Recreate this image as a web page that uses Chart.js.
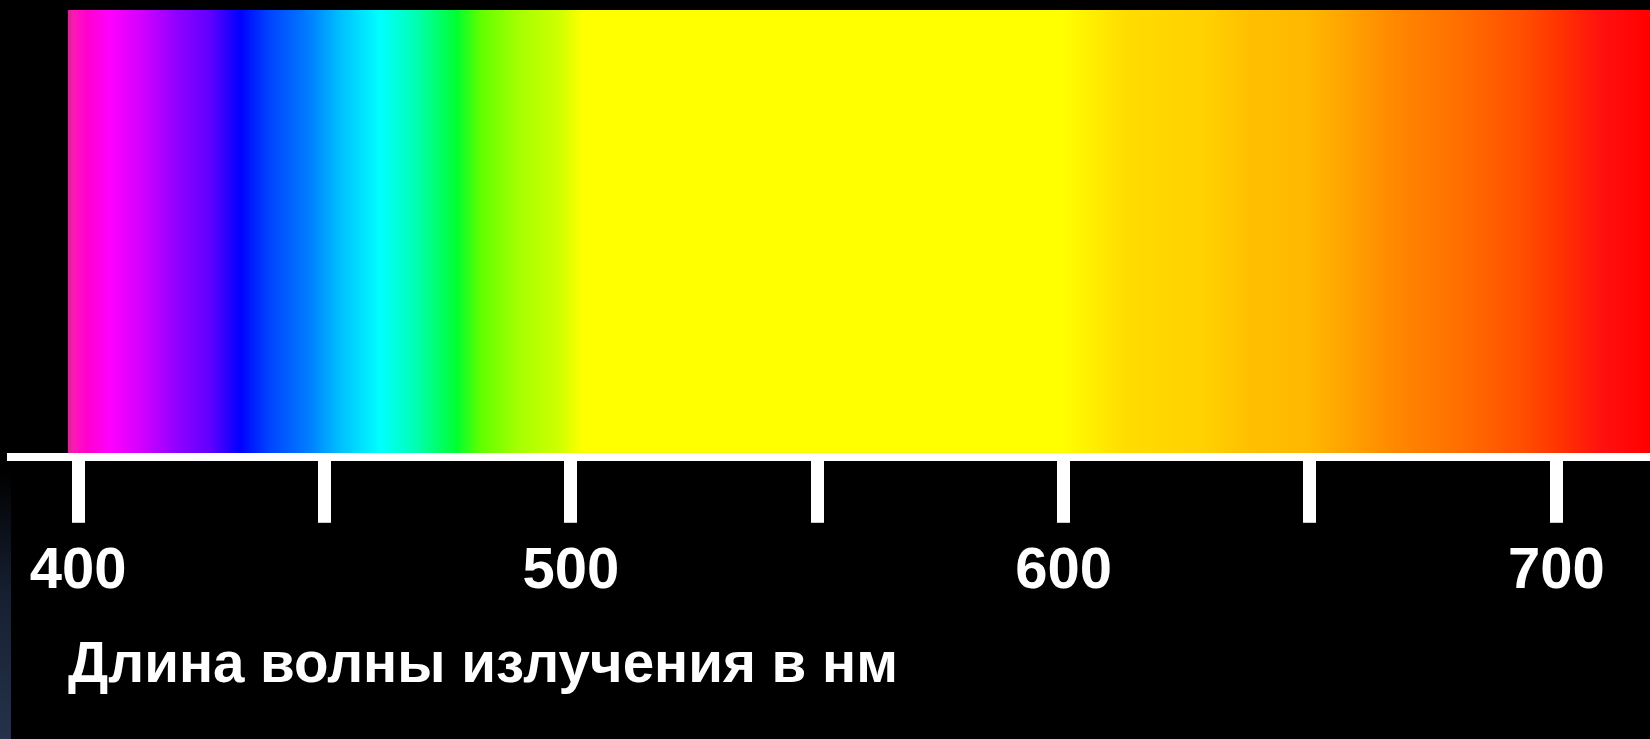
<!DOCTYPE html>
<html>
<head>
<meta charset="utf-8">
<title>Спектр видимого излучения</title>
<script src="https://cdn.jsdelivr.net/npm/chart.js@4.4.1/dist/chart.umd.min.js"></script>
<style>
  html, body { margin: 0; padding: 0; background: #000; overflow: hidden; }
  #wrap { position: relative; width: 1650px; height: 739px; background: #000; }
  #edge { position: absolute; left: 0; top: 0; width: 11px; height: 739px;
          background: linear-gradient(to bottom, #000 0px, #000 470px, #161f30 590px, #24324a 739px); }
  #c { position: absolute; left: 0; top: 0; }
</style>
</head>
<body>
<div id="wrap">
  <div id="edge"></div>
  <canvas id="c" width="1650" height="739"></canvas>
</div>
<script>
// Visible band, in nanometres
const bandLabel = ['Видимый спектр'];
const bandRange = [398, 719];

// Colour stops along the band (wavelength in nm -> colour)
const stopNm = [398, 399.2, 401.8, 406.5, 413.2, 420.1, 426.8, 432.9, 438.4, 447.1, 453.2,
                461.3, 468.8, 476.9, 481.6, 489.7, 497.2, 502.5, 599.7, 612.3, 629.1,
                637.7, 649.4, 658.8, 667.1, 679.7, 692.5, 700.8, 709.3, 719];
const stopColor = ['#d02890', '#ff18b8', '#ff00d0', '#ff00ff', '#d000ff', '#9000ff', '#6000ff',
                   '#0000ff', '#0040ff', '#0080ff', '#00c0ff', '#00ffff', '#00ffb0', '#00ff30',
                   '#60ff00', '#a8ff00', '#ccff00', '#ffff00', '#ffff00', '#ffdd00', '#ffd000',
                   '#ffc000', '#ffb800', '#ffa000', '#ff8800', '#ff7000', '#ff5000', '#ff3300',
                   '#ff1010', '#ff0000'];

// Axis extent, tick marks and labelled ticks
const axisMin = 386.4;
const axisMax = 719;
const tickNm = [400, 450, 500, 550, 600, 650, 700];
const labelNm = [400, 500, 600, 700];
const axisTitle = 'Длина волны излучения в нм';

const FONT = '"Liberation Sans", Arial, Helvetica, sans-serif';

// Horizontal gradient laid over the band using the x scale
function spectrumFill(context) {
  const chart = context.chart;
  const xs = chart.scales.x;
  if (!chart.chartArea || !xs) return stopColor[0];
  const x0 = xs.getPixelForValue(bandRange[0]);
  const x1 = xs.getPixelForValue(bandRange[1]);
  const g = chart.ctx.createLinearGradient(x0, 0, x1, 0);
  const span = bandRange[1] - bandRange[0];
  stopNm.forEach((nm, i) => {
    const t = Math.min(1, Math.max(0, (nm - bandRange[0]) / span));
    g.addColorStop(t, stopColor[i]);
  });
  return g;
}

// Axis caption under the tick labels
const captionPlugin = {
  id: 'caption',
  afterDraw(chart, args, opts) {
    const c = chart.ctx;
    c.save();
    c.fillStyle = opts.color;
    c.font = opts.font;
    c.textAlign = 'left';
    c.textBaseline = 'alphabetic';
    c.fillText(opts.text, chart.chartArea.left + opts.dx, opts.y);
    c.restore();
  }
};

new Chart(document.getElementById('c'), {
  type: 'bar',
  data: {
    labels: bandLabel,
    datasets: [{
      data: [bandRange],
      backgroundColor: spectrumFill,
      borderWidth: 0,
      barPercentage: 1,
      categoryPercentage: 1
    }]
  },
  options: {
    indexAxis: 'y',
    responsive: false,
    animation: false,
    events: [],
    layout: { padding: { top: 10, left: 11, right: 0, bottom: 118.6 } },
    plugins: {
      legend: { display: false },
      tooltip: { enabled: false },
      caption: {
        text: axisTitle,
        color: '#ffffff',
        font: 'bold 56.5px ' + FONT,
        dx: 57,
        y: 682
      }
    },
    scales: {
      x: {
        type: 'linear',
        position: 'bottom',
        min: axisMin,
        max: axisMax,
        z: 1,
        border: { display: true, color: '#ffffff', width: 8, z: 1 },
        grid: {
          display: true,
          drawOnChartArea: false,
          drawTicks: true,
          tickLength: 66,
          tickWidth: 13,
          tickColor: '#ffffff'
        },
        afterBuildTicks: (scale) => { scale.ticks = tickNm.map(v => ({ value: v })); },
        ticks: {
          color: '#ffffff',
          padding: 14,
          maxRotation: 0,
          autoSkip: false,
          font: { family: FONT, size: 58, weight: 'bold' },
          callback: (v) => labelNm.includes(v) ? String(v) : ''
        }
      },
      y: {
        type: 'category',
        display: false
      }
    }
  },
  plugins: [captionPlugin]
});
</script>
</body>
</html>
